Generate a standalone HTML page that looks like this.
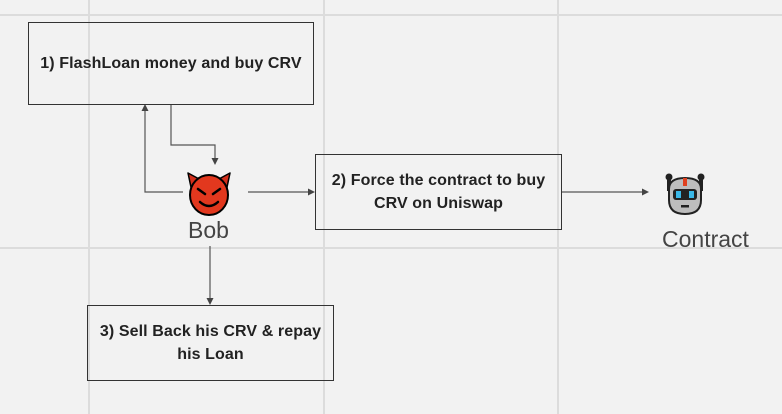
<!DOCTYPE html>
<html><head><style>
html,body{margin:0;padding:0;background:#f2f2f2;}
body{width:782px;height:414px;position:relative;overflow:hidden;font-family:"Liberation Sans",sans-serif;}
.box{position:absolute;border:1.3px solid #333;box-sizing:border-box;display:flex;align-items:center;justify-content:center;text-align:center;font-weight:bold;font-size:16px;color:#222;line-height:23px;letter-spacing:0.1px;}
.lbl{position:absolute;font-size:23px;color:#444;}
</style></head><body>
<svg width="782" height="414" style="position:absolute;left:0;top:0">
<g stroke="#dcdcdc" stroke-width="2">
<line x1="0" y1="15" x2="782" y2="15"/><line x1="0" y1="248" x2="782" y2="248"/>
<line x1="89" y1="0" x2="89" y2="414"/><line x1="324" y1="0" x2="324" y2="414"/><line x1="558" y1="0" x2="558" y2="414"/>
</g>
<g stroke="#555" stroke-width="1.2" fill="none">
<polyline points="183,192 145,192 145,108"/>
<polyline points="171,105 171,145 215,145 215,161"/>
<line x1="248" y1="192" x2="311" y2="192"/>
<line x1="562" y1="192" x2="645" y2="192"/>
<line x1="210" y1="246" x2="210" y2="301"/>
</g>
<g fill="#444">
<polygon points="145,104 141.5,111 148.5,111"/>
<polygon points="215,165 211.5,158 218.5,158"/>
<polygon points="315,192 308,188.5 308,195.5"/>
<polygon points="649,192 642,188.5 642,195.5"/>
<polygon points="210,305 206.5,298 213.5,298"/>
</g>
<!-- devil -->
<g transform="translate(209,195)">
<path d="M-21,-22 L-8,-15 L-17,-3 Z" fill="#d22f1c" stroke="#000" stroke-width="1.5" stroke-linejoin="round"/>
<path d="M21,-22 L8,-15 L17,-3 Z" fill="#d22f1c" stroke="#000" stroke-width="1.5" stroke-linejoin="round"/>
<ellipse cx="0" cy="0" rx="19" ry="20" fill="#e2381e" stroke="#000" stroke-width="2"/>
<path d="M-11,-6 L-4,-1 M11,-6 L4,-1" stroke="#000" stroke-width="2.5" stroke-linecap="round"/>
<path d="M-9,7 Q0,15 9,7" stroke="#000" stroke-width="2.5" fill="none" stroke-linecap="round"/>
</g>
<!-- robot -->
<g transform="translate(685,194)">
<circle cx="-16" cy="-17" r="3.5" fill="#222"/><circle cx="16" cy="-17" r="3.5" fill="#222"/>
<line x1="-16" y1="-17" x2="-16" y2="-3" stroke="#222" stroke-width="4"/><line x1="16" y1="-17" x2="16" y2="-3" stroke="#222" stroke-width="4"/>
<path d="M-16,-5 Q-16,-16 0,-16 Q16,-16 16,-5 L16,6 Q16,20 0,20 Q-16,20 -16,6 Z" fill="#bdbdbd" stroke="#222" stroke-width="2"/>
<rect x="-2" y="-16" width="4" height="8" fill="#e0401e"/>
<rect x="-12" y="-5" width="24" height="11" rx="3" fill="#222"/>
<rect x="-9" y="-3" width="5" height="7" fill="#3ab8e8"/><rect x="4" y="-3" width="5" height="7" fill="#3ab8e8"/>
<rect x="-4" y="11" width="8" height="2.5" fill="#222"/>
</g>
</svg>
<div class="box" style="left:28px;top:22px;width:286px;height:83px;">1) FlashLoan money and buy CRV</div>
<div class="box" style="left:315px;top:154px;width:247px;height:76px;">2) Force the contract to buy<br>CRV on Uniswap</div>
<div class="box" style="left:87px;top:305px;width:247px;height:76px;">3) Sell Back his CRV &amp; repay<br>his Loan</div>
<div class="lbl" style="left:188px;top:217px;">Bob</div>
<div class="lbl" style="left:662px;top:226px;">Contract</div>
</body></html>
